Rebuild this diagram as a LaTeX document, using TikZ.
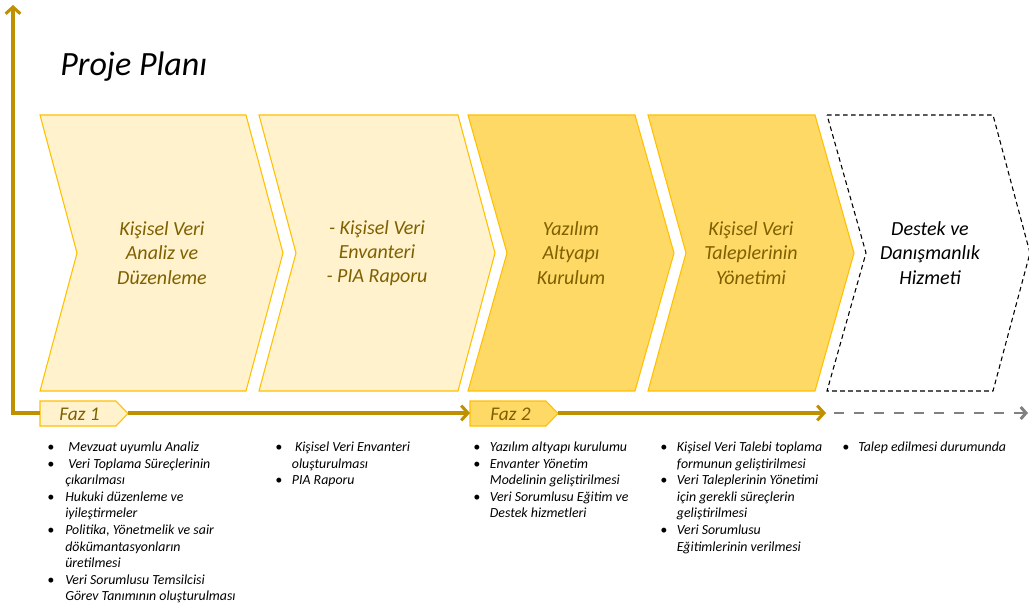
\documentclass[tikz,border=0pt]{standalone}
\usepackage{fontspec}
\setmainfont{Carlito}
\usetikzlibrary{arrows.meta}

\definecolor{gold}{HTML}{BF9000}
\definecolor{lightfill}{HTML}{FFF2CC}
\definecolor{midfill}{HTML}{FFD966}
\definecolor{edge}{HTML}{FFC000}
\definecolor{darktext}{HTML}{7F6000}
\definecolor{dashgray}{HTML}{808080}

\tikzset{
  phaselight/.style={fill=lightfill, draw=edge, line width=0.8pt, line join=miter},
  phasedark/.style={fill=midfill, draw=edge, line width=0.8pt, line join=miter},
  phasetext/.style={align=center, text=darktext, inner sep=0pt,
    font=\fontsize{15}{18.2}\selectfont\itshape},
  faztext/.style={anchor=west, text=darktext, inner sep=0pt,
    font=\fontsize{14.5}{17}\selectfont\itshape},
  timeline/.style={draw=gold, line width=2.3pt},
  goldtip/.style={-{Straight Barb[length=5pt, width=11pt]}},
  itemlist/.style={anchor=base west, inner sep=0pt,
    font=\fontsize{10.4}{12.45}\selectfont\itshape}
}

\begin{document}
\begin{tikzpicture}[x=0.75pt, y=-0.75pt]
    % Page frame
    \useasboundingbox (0,0) rectangle (1029,610);

    % Title
    \node[anchor=base west, inner sep=0pt, font=\fontsize{25.5}{30}\selectfont\itshape] (title) at (60,76) {Proje Planı};

    % Phase chevrons
    \draw[phaselight] (40,115) -- (246,115) -- (283,253) -- (246,391) -- (40,391) -- (77,253) -- cycle;
    \draw[phaselight] (259,115) -- (458,115) -- (495,253) -- (458,391) -- (259,391) -- (296,253) -- cycle;
    \draw[phasedark] (468,115) -- (635,115) -- (674,253) -- (635,391) -- (468,391) -- (507,253) -- cycle;
    \draw[phasedark] (648,115) -- (815,115) -- (854,253) -- (815,391) -- (648,391) -- (686,253) -- cycle;
    % Optional support phase
    \draw[black, line width=0.8pt, dash pattern=on 3.5pt off 2.5pt] (827,115) -- (993,115) -- (1030,253) -- (993,391) -- (827,391) -- (866,253) -- cycle;

    % Chevron labels
    \node[phasetext] (analiz) at (162,253) {Kişisel Veri\\Analiz ve\\Düzenleme};
    \node[phasetext] (envanter) at (377,253) {- Kişisel Veri\\Envanteri\\- PIA Raporu};
    \node[phasetext] (yazilim) at (571,253) {Yazılım\\Altyapı\\Kurulum};
    \node[phasetext] (talepler) at (751,253) {Kişisel Veri\\Taleplerinin\\Yönetimi};
    \node[phasetext, text=black] (destek) at (930,253) {Destek ve\\Danışmanlık\\Hizmeti};

    % Faz tags
    \draw[phaselight] (40,401) -- (116,401) -- (128,413.5) -- (116,426) -- (40,426) -- cycle;
    \draw[phasedark] (470,401) -- (546,401) -- (558,413.5) -- (546,426) -- (470,426) -- cycle;
    \node[faztext] (faz1) at (59,414) {Faz 1};
    \node[faztext] (faz2) at (490,414) {Faz 2};

    % Time axis
    \coordinate (origin) at (13,413);
    \coordinate (axistop) at (13,5);
    \coordinate (faz1in) at (40,413);
    \coordinate (faz1out) at (128,413);
    \coordinate (faz2in) at (470,413);
    \coordinate (faz2out) at (558,413);
    \coordinate (goldend) at (826,413);
    \coordinate (axisend) at (1028,413);
    \draw[timeline, goldtip, line cap=butt] (origin) -- (axistop);
    \draw[timeline] ([xshift=-1.15pt]origin) -- (faz1in);
    \draw[timeline, goldtip] (faz1out) -- (faz2in);
    \draw[timeline, goldtip] (faz2out) -- (goldend);
    \draw[dashgray, line width=2.2pt, dash pattern=on 7.5pt off 7.5pt,
      -{Straight Barb[length=4pt, width=9pt]}] ([xshift=6pt]goldend) -- (axisend);

    % Work items under each phase
    \node[itemlist] (list1) at (47,451.5) {\begin{tabular}[t]{@{}p{13.5pt}@{}l@{}}
      \textbullet & \ Mevzuat uyumlu Analiz\\
      \textbullet & \ Veri Toplama Süreçlerinin\\
                  & çıkarılması\\
      \textbullet & Hukuki düzenleme ve\\
                  & iyileştirmeler\\
      \textbullet & Politika, Yönetmelik ve sair\\
                  & dökümantasyonların\\
                  & üretilmesi\\
      \textbullet & Veri Sorumlusu Temsilcisi\\
                  & Görev Tanımının oluşturulması
    \end{tabular}};
    \node[itemlist] (list2) at (275,451.5) {\begin{tabular}[t]{@{}p{12.5pt}@{}l@{}}
      \textbullet & \ Kişisel Veri Envanteri\\
                  & oluşturulması\\
      \textbullet & PIA Raporu
    \end{tabular}};
    \node[itemlist] (list3) at (473,451.5) {\begin{tabular}[t]{@{}p{12.5pt}@{}l@{}}
      \textbullet & Yazılım altyapı kurulumu\\
      \textbullet & Envanter Yönetim\\
                  & Modelinin geliştirilmesi\\
      \textbullet & Veri Sorumlusu Eğitim ve\\
                  & Destek hizmetleri
    \end{tabular}};
    \node[itemlist] (list4) at (660,451.5) {\begin{tabular}[t]{@{}p{12.5pt}@{}l@{}}
      \textbullet & Kişisel Veri Talebi toplama\\
                  & formunun geliştirilmesi\\
      \textbullet & Veri Taleplerinin Yönetimi\\
                  & için gerekli süreçlerin\\
                  & geliştirilmesi\\
      \textbullet & Veri Sorumlusu\\
                  & Eğitimlerinin verilmesi
    \end{tabular}};
    \node[itemlist] (list5) at (842,451.5) {\begin{tabular}[t]{@{}p{12pt}@{}l@{}}
      \textbullet & Talep edilmesi durumunda
    \end{tabular}};
\end{tikzpicture}
\end{document}
